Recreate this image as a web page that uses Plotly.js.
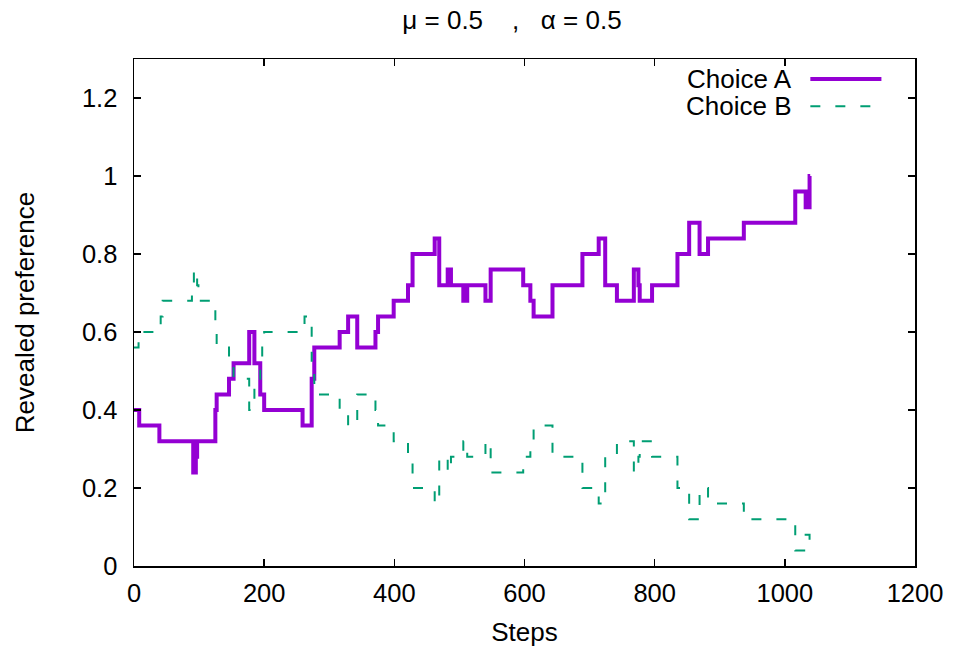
<!DOCTYPE html>
<html>
<head>
<meta charset="utf-8">
<script src="https://cdn.plot.ly/plotly-3.0.1.min.js"></script>
<style>html,body{margin:0;padding:0;background:#fff;}#chart{width:955px;height:654px;}</style>
</head>
<body>
<div id="chart"></div>
<script>
// Step at which Choice A's revealed preference changes, and its new value
const stepsA = [0, 8, 39, 91, 95, 97, 125, 127, 146, 153, 177, 185, 194, 200, 259, 273, 277, 316, 329, 343, 371, 375, 399, 421, 428, 462, 469, 482, 487, 506, 512, 540, 548, 598, 609, 614, 643, 689, 714, 724, 742, 768, 775, 777, 796, 835, 853, 869, 882, 937, 1016, 1032, 1038, 1039];
const valuesA = [0.40, 0.36, 0.32, 0.24, 0.28, 0.32, 0.40, 0.44, 0.48, 0.52, 0.60, 0.52, 0.44, 0.40, 0.36, 0.48, 0.56, 0.60, 0.64, 0.56, 0.60, 0.64, 0.68, 0.72, 0.80, 0.84, 0.72, 0.76, 0.72, 0.68, 0.72, 0.68, 0.76, 0.72, 0.68, 0.64, 0.72, 0.80, 0.84, 0.72, 0.68, 0.76, 0.72, 0.68, 0.72, 0.80, 0.88, 0.80, 0.84, 0.88, 0.96, 0.92, 1.00, 1.00];

// Step at which Choice B's revealed preference changes, and its new value
const stepsB = [0, 7, 41, 44, 89, 92, 97, 99, 125, 127, 146, 153, 177, 185, 194, 197, 200, 262, 273, 277, 316, 329, 343, 371, 375, 399, 421, 428, 462, 469, 482, 487, 506, 512, 540, 548, 598, 609, 614, 643, 689, 714, 724, 742, 768, 775, 777, 796, 835, 853, 869, 882, 937, 1016, 1032, 1038, 1039];
const valuesB = [0.56, 0.60, 0.64, 0.68, 0.72, 0.76, 0.72, 0.68, 0.60, 0.56, 0.52, 0.48, 0.40, 0.48, 0.52, 0.56, 0.60, 0.64, 0.52, 0.44, 0.40, 0.36, 0.44, 0.40, 0.36, 0.32, 0.28, 0.20, 0.16, 0.28, 0.24, 0.28, 0.32, 0.28, 0.32, 0.24, 0.28, 0.32, 0.36, 0.28, 0.20, 0.16, 0.28, 0.32, 0.24, 0.28, 0.32, 0.28, 0.20, 0.12, 0.20, 0.16, 0.12, 0.04, 0.08, 0.04, 0.04];

const seriesNames = ["Choice A", "Choice B"];
const xTicks = [0, 200, 400, 600, 800, 1000, 1200];
const yTicks = [0, 0.2, 0.4, 0.6, 0.8, 1, 1.2];

const purple = "#9400D3";
const green = "#009E73";
const font = "Liberation Sans, Arial, Helvetica, sans-serif";
const textSize = 26;
const tickSize = 25.5;

const traces = [
  {x: stepsA, y: valuesA, name: seriesNames[0], type: "scatter", mode: "lines",
   line: {color: purple, width: 4, shape: "hv"}, showlegend: false},
  {x: stepsB, y: valuesB, name: seriesNames[1], type: "scatter", mode: "lines",
   line: {color: green, width: 2, shape: "hv", dash: "10px,15px"}, showlegend: false}
];

const axisCommon = {
  showline: true, linecolor: "#000", linewidth: 1.5, mirror: "ticks",
  ticks: "inside", ticklen: 7, tickwidth: 1.5, tickcolor: "#000",
  showgrid: false, zeroline: false,
  tickfont: {family: font, size: tickSize, color: "#000"}
};

const layout = {
  width: 955, height: 654,
  margin: {l: 134, r: 39.5, t: 59, b: 88},
  paper_bgcolor: "#fff", plot_bgcolor: "#fff",
  font: {family: font, size: textSize, color: "#000"},
  title: {text: "\u03bc = 0.5\u00a0\u00a0\u00a0\u00a0,\u00a0\u00a0\u00a0\u03b1 = 0.5",
          font: {family: font, size: textSize, color: "#000"},
          x: 0.484, xref: "paper", xanchor: "center", y: 0.969, yref: "container", yanchor: "middle"},
  xaxis: Object.assign({}, axisCommon, {range: [0, 1200], tickvals: xTicks, ticklabelstandoff: 4,
    title: {text: "Steps", font: {family: font, size: textSize, color: "#000"}, standoff: 16}}),
  yaxis: Object.assign({}, axisCommon, {range: [0, 1.3], tickvals: yTicks, ticklabelstandoff: 10,
    title: {text: "Revealed preference", font: {family: font, size: textSize, color: "#000"}, standoff: 40}}),
  showlegend: false,
  annotations: [
    {text: seriesNames[0], xref: "paper", yref: "paper", x: 0.845, y: 0.9606, xanchor: "right", yanchor: "middle", showarrow: false, font: {family: font, size: textSize, color: "#000"}},
    {text: seriesNames[1], xref: "paper", yref: "paper", x: 0.845, y: 0.907, xanchor: "right", yanchor: "middle", showarrow: false, font: {family: font, size: textSize, color: "#000"}}
  ],
  shapes: [
    {type: "line", xref: "paper", yref: "paper", x0: 0.866, x1: 0.957, y0: 0.9606, y1: 0.9606, line: {color: purple, width: 4}},
    {type: "line", xref: "paper", yref: "paper", x0: 0.866, x1: 0.957, y0: 0.907, y1: 0.907, line: {color: green, width: 2, dash: "10px,15px"}}
  ]
};

Plotly.newPlot("chart", traces, layout, {displayModeBar: false, staticPlot: true});
</script>
</body>
</html>
